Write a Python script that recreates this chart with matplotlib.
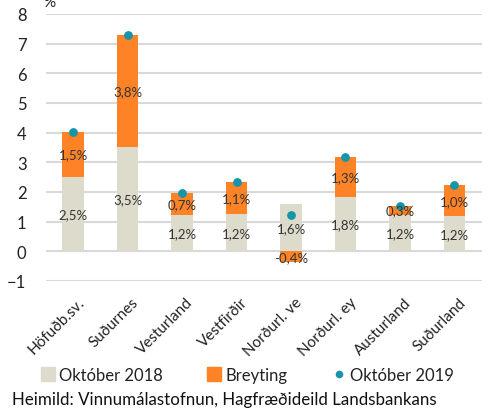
import matplotlib.pyplot as plt
from matplotlib.lines import Line2D
from matplotlib.transforms import ScaledTranslation

plt.rcParams['font.family'] = ['Lato', 'DejaVu Sans']

regions = ['Höfuðb.sv.', 'Suðurnes', 'Vesturland', 'Vestfirðir',
           'Norðurl. ve', 'Norðurl. ey', 'Austurland', 'Suðurland']
oct_2018 = [2.5, 3.5, 1.22, 1.24, 1.59, 1.84, 1.22, 1.18]
breyting = [1.53, 3.79, 0.73, 1.08, -0.37, 1.34, 0.32, 1.04]
oct_2019 = [a + b for a, b in zip(oct_2018, breyting)]

c_gray = '#dddbcb'
c_orange = '#fd8326'
c_teal = '#1596a8'

fig = plt.figure(figsize=(4.88, 4.14), dpi=100)
ax = fig.add_axes([0.094, 0.319, 0.893, 0.645])

x = list(range(len(regions)))
w = 0.4
ax.bar(x, oct_2018, w, color=c_gray, zorder=2)
bottoms = [a if b >= 0 else 0 for a, b in zip(oct_2018, breyting)]
ax.bar(x, breyting, w, bottom=bottoms, color=c_orange, zorder=2)
ax.scatter(x, oct_2019, s=28, color=c_teal, zorder=4)

def fmt(v):
    return f'{v:.1f}%'.replace('.', ',')

for i in x:
    ax.text(i, oct_2018[i] / 2, fmt(oct_2018[i]), ha='center', va='center',
            fontsize=9.5, color='#333333', zorder=5)
    ax.text(i, bottoms[i] + breyting[i] / 2, fmt(breyting[i]), ha='center',
            va='center', fontsize=9.5, color='#333333', zorder=5)

ax.set_xlim(-0.5, 7.5)
ax.set_ylim(-1, 8)
ax.set_yticks(range(-1, 9))
ax.grid(axis='y', color='#d9d9d9', linewidth=1.5, zorder=0)
ax.set_axisbelow(True)
for s in ax.spines.values():
    s.set_visible(False)
ax.tick_params(axis='y', length=0, labelsize=12, pad=14, labelcolor='#222222')
ax.tick_params(axis='x', length=0, pad=10)
ax.set_xticks(x)
ax.set_xticklabels(regions, rotation=45, ha='right', rotation_mode='anchor',
                   fontsize=11, color='#222222')
shift = ScaledTranslation(4 / 100, 0, fig.dpi_scale_trans)
for lbl in ax.get_xticklabels():
    lbl.set_transform(lbl.get_transform() + shift)

fig.text(0.102, 0.993, '%', fontsize=11, ha='center', va='center', color='#222222')

handles = [
    Line2D([], [], marker='s', linestyle='none', markersize=10, color=c_gray),
    Line2D([], [], marker='s', linestyle='none', markersize=10, color=c_orange),
    Line2D([], [], marker='o', linestyle='none', markersize=4.5, color=c_teal),
]
fig.legend(handles, ['Október 2018', 'Breyting', 'Október 2019'], ncol=3,
           loc='center', bbox_to_anchor=(0.507, 0.092), frameon=False,
           fontsize=12, handlelength=0.8, handletextpad=0.25, columnspacing=2.7,
           labelcolor='#222222')

fig.text(0.025, 0.034, 'Heimild: Vinnumálastofnun, Hagfræðideild Landsbankans',
         fontsize=12.2, ha='left', va='center', color='#111111')

fig.savefig('out.png', dpi=100)
